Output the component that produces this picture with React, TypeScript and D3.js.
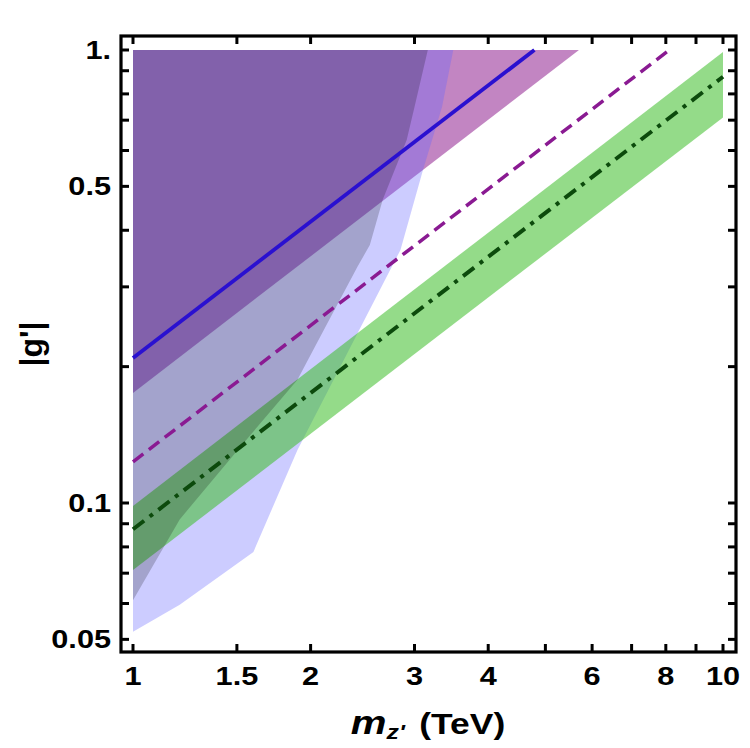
import * as d3 from "d3";

// exclusion regions (m in TeV, |g'|)
const outerM = [1, 1.2, 1.6, 1.9, 2.84, 3.1, 3.34, 3.49, 1];
const outerG = [0.052, 0.0596, 0.078, 0.131, 0.362, 0.543, 0.748, 1, 1];

const innerM = [1, 1.2, 1.52, 1.9, 2.12, 2.4, 2.52, 2.65, 2.91, 3.0, 3.16, 1];
const innerG = [0.061, 0.092, 0.133, 0.187, 0.245, 0.332, 0.371, 0.467, 0.633, 0.748, 1, 1];

const magentaM = [1, 5.7, 1];
const magentaG = [0.175, 1, 1];

const bandM = [1, 10];
const bandUpper = [0.0985, 0.99];
const bandLower = [0.0711, 0.71];

const blueM = [1, 4.79];
const blueG = [0.209, 1];
const dashedM = [1, 8.11];
const dashedG = [0.1233, 1];
const dotDashM = [1, 10];
const dotDashG = [0.0875, 0.873];

const xTicks = [1, 1.5, 2, 3, 4, 5, 6, 7, 8, 9, 10];
const xLabelVals = [1, 1.5, 2, 3, 4, 6, 8, 10];
const xLabelText = ["1", "1.5", "2", "3", "4", "6", "8", "10"];
const yTicks = [0.05, 0.06, 0.07, 0.08, 0.09, 0.1, 0.2, 0.3, 0.4, 0.5, 0.6, 0.7, 0.8, 0.9, 1];
const yLabelVals = [0.05, 0.1, 0.5, 1];
const yLabelText = ["0.05", "0.1", "0.5", "1."];

const FONT = "'Liberation Sans', Arial, sans-serif";
const SX = 1.18; // the original's text is a bit wider than Arial

export default function App() {
  const x = d3.scaleLog().domain([1, 10]).range([133, 723]);
  const y = d3.scaleLog().domain([0.1, 1]).range([503, 50]);

  const frame = { left: 121, right: 736, top: 36, bottom: 652 };
  const tickLen = 8;

  const line = d3.line<[number, number]>();
  const pts = (ms: number[], gs: number[]) => ms.map((m, i) => [x(m), y(gs[i])] as [number, number]);
  const path = (ms: number[], gs: number[], close = false) => line(pts(ms, gs))! + (close ? "Z" : "");

  const bandPath = line([...pts(bandM, bandUpper), ...pts(bandM, bandLower).reverse()])! + "Z";

  return (
    <svg
      width={750}
      height={748}
      style={{ position: "fixed", left: 0, top: 0, background: "#fff" }}
      fontFamily={FONT}
    >
      <rect width={750} height={748} fill="#fff" />

      <path d={path(magentaM, magentaG, true)} fill="rgb(128,0,128)" fillOpacity={0.48} />
      <path d={path(outerM, outerG, true)} fill="rgb(100,100,255)" fillOpacity={0.33} />
      <path d={bandPath} fill="rgb(60,190,40)" fillOpacity={0.55} />
      <path d={path(innerM, innerG, true)} fill="#000" fillOpacity={0.2} />

      <path d={path(blueM, blueG)} fill="none" stroke="#2a10d0" strokeWidth={3.8} />
      <path
        d={path(dashedM, dashedG)}
        fill="none"
        stroke="#8a1a92"
        strokeWidth={3.5}
        strokeDasharray="13,7"
      />
      <path
        d={path(dotDashM, dotDashG)}
        fill="none"
        stroke="#0c4a0c"
        strokeWidth={4}
        strokeDasharray="14,7,4,7"
      />

      {/* frame */}
      <rect
        x={frame.left}
        y={frame.top}
        width={frame.right - frame.left}
        height={frame.bottom - frame.top}
        fill="none"
        stroke="#000"
        strokeWidth={3.2}
      />

      {/* ticks */}
      {xTicks.map((t) => (
        <g key={"xt" + t} stroke="#000" strokeWidth={3}>
          <line x1={x(t)} x2={x(t)} y1={frame.bottom} y2={frame.bottom - tickLen} />
          <line x1={x(t)} x2={x(t)} y1={frame.top} y2={frame.top + tickLen} />
        </g>
      ))}
      {yTicks.map((t) => (
        <g key={"yt" + t} stroke="#000" strokeWidth={3}>
          <line x1={frame.left} x2={frame.left + tickLen} y1={y(t)} y2={y(t)} />
          <line x1={frame.right} x2={frame.right - tickLen} y1={y(t)} y2={y(t)} />
        </g>
      ))}

      {/* tick labels */}
      {xLabelVals.map((v, i) => (
        <text
          key={"xl" + v}
          transform={`translate(${x(v)},685) scale(${SX},1)`}
          textAnchor="middle"
          fontSize={26}
          fontWeight="bold"
        >
          {xLabelText[i]}
        </text>
      ))}
      {yLabelVals.map((v, i) => (
        <text
          key={"yl" + v}
          transform={`translate(111,${y(v) + 9}) scale(${SX},1)`}
          textAnchor="end"
          fontSize={26}
          fontWeight="bold"
        >
          {yLabelText[i]}
        </text>
      ))}

      {/* axis titles */}
      <text
        transform={`translate(428,734) scale(${SX},1)`}
        textAnchor="middle"
        fontSize={30}
        fontWeight="bold"
      >
        <tspan fontStyle="italic" fontSize={34}>
          m
        </tspan>
        <tspan fontStyle="italic" fontSize={21} dy={5}>
          z'
        </tspan>
        <tspan dy={-5} dx={4}>
          {" "}(TeV)
        </tspan>
      </text>
      <text
        transform="translate(42,344) rotate(-90)"
        textAnchor="middle"
        fontSize={32}
        fontWeight="bold"
      >
        |g'|
      </text>
    </svg>
  );
}
